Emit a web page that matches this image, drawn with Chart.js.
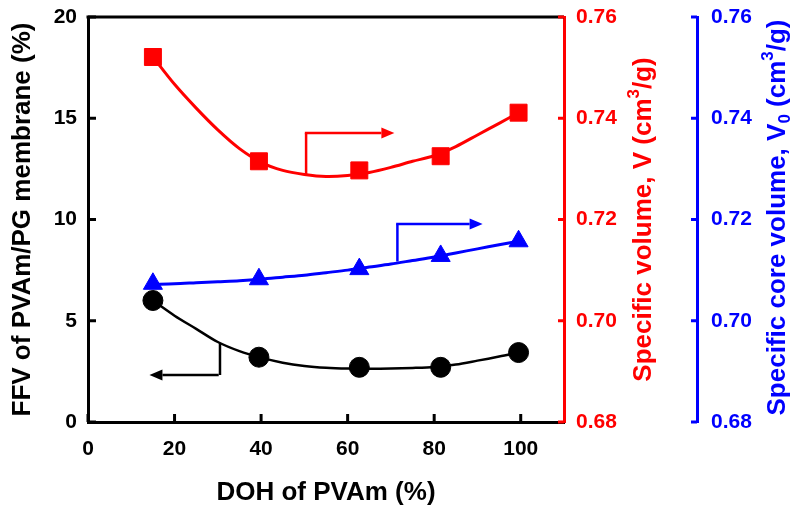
<!DOCTYPE html>
<html>
<head>
<meta charset="utf-8">
<script src="https://cdn.jsdelivr.net/npm/chart.js@4/dist/chart.umd.min.js"></script>
<style>
  html, body { margin: 0; padding: 0; background: #ffffff; }
  #wrap { width: 793px; height: 508px; position: relative; }
</style>
</head>
<body>
<div id="wrap"><canvas id="c"></canvas></div>
<script>
// ---------- data ----------
const doh = [15, 39.5, 62.7, 81.5, 99.5];            // DOH of PVAm (%)
const ffv = [6.0, 3.2, 2.7, 2.7, 3.43];              // FFV (%) - left axis
const specVol = [0.7521, 0.7315, 0.7297, 0.7325, 0.7411]; // V (cm3/g) - red axis
const coreVol = [0.7073, 0.7082, 0.7102, 0.7128, 0.7157]; // V0 (cm3/g) - blue axis

// fitted trend curves
const fitX    = [15, 20, 25, 30, 35, 40, 45, 50, 55, 60, 65, 70, 75, 80, 85, 90, 95, 99.5];
const ffvFit  = [6.0, 5.25, 4.6, 3.95, 3.50, 3.18, 2.93, 2.77, 2.68, 2.64, 2.63, 2.64, 2.67, 2.72, 2.84, 3.03, 3.23, 3.43];
const specFit = [0.7521, 0.7467, 0.7420, 0.7377, 0.7340, 0.7313, 0.7297, 0.7289, 0.7285, 0.7287, 0.7293, 0.7303, 0.7315, 0.7326, 0.7344, 0.7367, 0.7390, 0.7411];
const coreFit = [0.7072, 0.7073, 0.7075, 0.7077, 0.7079, 0.7082, 0.7086, 0.7090, 0.7095, 0.7100, 0.7106, 0.7112, 0.7119, 0.7126, 0.7134, 0.7142, 0.7150, 0.7157];

// axis indicator arrows: [x of vertical, y start (on curve), y corner, x end]
const ffvArrow  = [30.5, 3.89, 2.32, 14.2];
const specArrow = [50.4, 0.7289, 0.7371, 70.8];
const coreArrow = [71.5, 0.7117, 0.7191, 91.2];

// axis ranges / tick labels
const xRange = [0, 110];
const xStep = 20;
const leftRange = [0, 20];
const leftStep = 5;
const rightRange = [0.68, 0.76];
const rightStep = 0.02;

const xTitle = 'DOH of PVAm (%)';
const leftTitle = 'FFV of PVAm/PG membrane (%)';

const RED = '#ff0000';
const BLUE = '#0000ff';
const BLACK = '#000000';
const FONT = "'Liberation Sans', Arial, Helvetica, sans-serif";

const pts = (xs, ys) => xs.map((x, i) => ({x: x, y: ys[i]}));

function drawArrow(ctx, x0, y0, x1, y1, color) {
  ctx.save();
  ctx.strokeStyle = color;
  ctx.fillStyle = color;
  ctx.lineWidth = 2.5;
  const ang = Math.atan2(y1 - y0, x1 - x0);
  const hl = 13, hw = 5.5;
  const bx = x1 - hl * Math.cos(ang), by = y1 - hl * Math.sin(ang);
  ctx.beginPath();
  ctx.moveTo(x0, y0);
  ctx.lineTo(bx, by);
  ctx.stroke();
  ctx.beginPath();
  ctx.moveTo(x1, y1);
  ctx.lineTo(bx + hw * Math.sin(ang), by - hw * Math.cos(ang));
  ctx.lineTo(bx - hw * Math.sin(ang), by + hw * Math.cos(ang));
  ctx.closePath();
  ctx.fill();
  ctx.restore();
}

function drawRichRotated(ctx, cx, cy, parts, color, size) {
  ctx.save();
  ctx.translate(cx, cy);
  ctx.rotate(-Math.PI / 2);
  ctx.fillStyle = color;
  ctx.textBaseline = 'middle';
  ctx.textAlign = 'left';
  const small = Math.round(size * 0.65);
  let total = 0;
  const widths = parts.map(p => {
    ctx.font = 'bold ' + (p.k === 'n' ? size : small) + 'px ' + FONT;
    const w = ctx.measureText(p.t).width;
    total += w;
    return w;
  });
  let x = -total / 2;
  parts.forEach((p, i) => {
    ctx.font = 'bold ' + (p.k === 'n' ? size : small) + 'px ' + FONT;
    let dy = 0;
    if (p.k === 'sup') dy = -size * 0.36;
    if (p.k === 'sub') dy = size * 0.3;
    ctx.fillText(p.t, x, dy);
    x += widths[i];
  });
  ctx.restore();
}

const decor = {
  id: 'decor',
  afterDraw(chart) {
    const ctx = chart.ctx;
    const {x, y, yR, yB} = chart.scales;
    const a = chart.chartArea;
    ctx.save();
    ctx.lineCap = 'butt';
    // top frame line
    ctx.strokeStyle = BLACK;
    ctx.lineWidth = 3;
    ctx.beginPath();
    ctx.moveTo(a.left - 1.5, a.top);
    ctx.lineTo(a.right, a.top);
    ctx.stroke();
    // inward ticks
    ctx.lineWidth = 3;
    x.ticks.forEach(t => {
      const px = x.getPixelForValue(t.value);
      ctx.beginPath(); ctx.moveTo(px, a.bottom); ctx.lineTo(px, a.bottom - 8); ctx.stroke();
    });
    y.ticks.forEach(t => {
      const py = y.getPixelForValue(t.value);
      ctx.beginPath(); ctx.moveTo(a.left, py); ctx.lineTo(a.left + 8, py); ctx.stroke();
    });
    ctx.strokeStyle = RED;
    yR.ticks.forEach(t => {
      const py = yR.getPixelForValue(t.value);
      ctx.beginPath(); ctx.moveTo(yR.left, py); ctx.lineTo(yR.left - 6, py); ctx.stroke();
    });
    ctx.strokeStyle = BLUE;
    yB.ticks.forEach(t => {
      const py = yB.getPixelForValue(t.value);
      ctx.beginPath(); ctx.moveTo(yB.left, py); ctx.lineTo(yB.left - 6, py); ctx.stroke();
    });
    ctx.restore();

    // arrows
    const arrowDraw = (arr, ys, color) => {
      const vx = x.getPixelForValue(arr[0]);
      const y0 = ys.getPixelForValue(arr[1]);
      const y1 = ys.getPixelForValue(arr[2]);
      const ex = x.getPixelForValue(arr[3]);
      ctx.save();
      ctx.strokeStyle = color; ctx.lineWidth = 2.5;
      ctx.beginPath(); ctx.moveTo(vx, y0); ctx.lineTo(vx, y1); ctx.stroke();
      ctx.restore();
      drawArrow(ctx, vx - 1.25, y1, ex, y1, color);
    };
    arrowDraw(ffvArrow, y, BLACK);
    arrowDraw(specArrow, yR, RED);
    arrowDraw(coreArrow, yB, BLUE);

    // right axis titles (rotated, with super/subscripts)
    const midY = (a.top + a.bottom) / 2;
    drawRichRotated(ctx, yR.left + 80, midY, [
      {t: 'Specific volume, V (cm', k: 'n'}, {t: '3', k: 'sup'}, {t: '/g)', k: 'n'}
    ], RED, 26);
    drawRichRotated(ctx, yB.left + 81, midY - 2, [
      {t: 'Specific core volume, V', k: 'n'}, {t: '0', k: 'sub'}, {t: ' (cm', k: 'n'}, {t: '3', k: 'sup'}, {t: '/g)', k: 'n'}
    ], BLUE, 26);
  }
};

const tickFont = {family: FONT, size: 21, weight: 'bold'};
const titleFont = {family: FONT, size: 26, weight: 'bold'};

const fixV = w => s => { s.width = w; s.paddingTop = 0; s.paddingBottom = 0; };
const fixH = h => s => { s.height = h; s.paddingLeft = 0; s.paddingRight = 0; };

new Chart(document.getElementById('c'), {
  type: 'scatter',
  data: {
    datasets: [
      {data: pts(doh, ffv), yAxisID: 'y', backgroundColor: BLACK, borderColor: BLACK,
       pointStyle: 'circle', pointRadius: 10, pointHoverRadius: 10, showLine: false, order: 0},
      {data: pts(doh, specVol), yAxisID: 'yR', backgroundColor: RED, borderColor: RED,
       pointStyle: 'rect', pointRadius: 12, pointHoverRadius: 12, showLine: false, order: 0},
      {data: pts(doh, coreVol), yAxisID: 'yB', backgroundColor: BLUE, borderColor: BLUE,
       pointStyle: 'triangle', pointRadius: 11, pointHoverRadius: 11, showLine: false, order: 0},
      {data: pts(fitX, ffvFit), yAxisID: 'y', borderColor: BLACK, borderWidth: 2.5,
       pointRadius: 0, showLine: true, tension: 0.3, order: 1},
      {data: pts(fitX, specFit), yAxisID: 'yR', borderColor: RED, borderWidth: 3,
       pointRadius: 0, showLine: true, tension: 0.3, order: 1},
      {data: pts(fitX, coreFit), yAxisID: 'yB', borderColor: BLUE, borderWidth: 3,
       pointRadius: 0, showLine: true, tension: 0.3, order: 1}
    ]
  },
  options: {
    responsive: true,
    maintainAspectRatio: false,
    animation: false,
    layout: {padding: {top: 17, left: 0, right: 0, bottom: 0}},
    plugins: {legend: {display: false}, tooltip: {enabled: false}},
    scales: {
      x: {
        type: 'linear', position: 'bottom', min: xRange[0], max: xRange[1],
        afterFit: fixH(86),
        grid: {display: false, drawTicks: false},
        border: {display: true, color: BLACK, width: 3},
        ticks: {stepSize: xStep, includeBounds: false, color: BLACK, font: tickFont, padding: 15},
        title: {display: true, text: xTitle, color: BLACK, font: titleFont, padding: {top: 0, bottom: 0}}
      },
      y: {
        type: 'linear', position: 'left', min: leftRange[0], max: leftRange[1],
        afterFit: fixV(88),
        grid: {display: false, drawTicks: false},
        border: {display: true, color: BLACK, width: 3},
        ticks: {stepSize: leftStep, color: BLACK, font: tickFont, padding: 11},
        title: {display: true, text: leftTitle, color: BLACK, font: titleFont, padding: {top: 7, bottom: 0}}
      },
      yR: {
        type: 'linear', position: 'right', min: rightRange[0], max: rightRange[1],
        afterFit: fixV(133),
        grid: {display: false, drawTicks: false},
        border: {display: true, color: RED, width: 3},
        ticks: {stepSize: rightStep, color: RED, font: tickFont, padding: 12,
                callback: v => v.toFixed(2)},
        title: {display: false}
      },
      yB: {
        type: 'linear', position: 'right', min: rightRange[0], max: rightRange[1],
        afterFit: fixV(96),
        grid: {display: false, drawTicks: false},
        border: {display: true, color: BLUE, width: 3},
        ticks: {stepSize: rightStep, color: BLUE, font: tickFont, padding: 14,
                callback: v => v.toFixed(2)},
        title: {display: false}
      }
    }
  },
  plugins: [decor]
});
</script>
</body>
</html>
